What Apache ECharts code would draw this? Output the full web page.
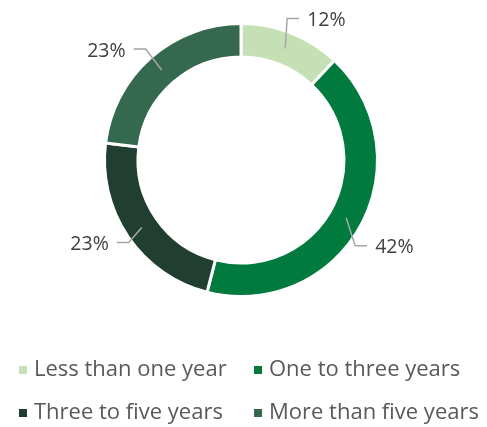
<!DOCTYPE html>
<html>
<head>
<meta charset="utf-8">
<script src="https://cdn.jsdelivr.net/npm/echarts@6/dist/echarts.min.js"></script>
<style>
  html, body { margin: 0; padding: 0; background: #ffffff; }
  #chart { width: 487px; height: 427px; }
</style>
</head>
<body>
<div id="chart"></div>
<script>
// Share of respondents by tenure
const categories = ['Less than one year', 'One to three years', 'Three to five years', 'More than five years'];
const shares = [12, 42, 23, 23];
const colors = ['#C5E0B4', '#007A3D', '#213F31', '#35694F'];

const leftColumn = [categories[0], categories[2]];
const rightColumn = [categories[1], categories[3]];

const pieData = categories.map((name, i) => ({ name, value: shares[i] }));

// Leader line bends: offset from the ring midpoint to the elbow
const leaderBends = [[2, -30], [9, 28], [-13, 15], [-16, -21]];
const leaderTail = 12;
const textGap = 8;

const chart = echarts.init(document.getElementById('chart'), null, { renderer: 'canvas' });

const legendText = { fontFamily: 'Open Sans', fontSize: 22, color: '#595959', padding: [0, 0, 0, 1] };

chart.setOption({
  animation: false,
  color: colors,
  legend: [
    {
      data: leftColumn, orient: 'vertical', left: 17, top: 359, padding: 0,
      icon: 'rect', itemWidth: 10, itemHeight: 10, itemGap: 21,
      selectedMode: false, textStyle: legendText
    },
    {
      data: rightColumn, orient: 'vertical', left: 252, top: 359, padding: 0,
      icon: 'rect', itemWidth: 10, itemHeight: 10, itemGap: 21,
      selectedMode: false, textStyle: legendText
    }
  ],
  series: [
    {
      // the ring itself
      type: 'pie',
      z: 2,
      center: [241, 160],
      radius: [103, 136.5],
      startAngle: 90,
      clockwise: true,
      silent: true,
      label: { show: false },
      labelLine: { show: false },
      itemStyle: { borderColor: '#ffffff', borderWidth: 3 },
      data: pieData
    },
    {
      // invisible copy whose labels start from the middle of the ring
      type: 'pie',
      z: 5,
      center: [241, 160],
      radius: [0, 120],
      startAngle: 90,
      clockwise: true,
      silent: true,
      avoidLabelOverlap: false,
      itemStyle: { color: 'rgba(0,0,0,0)', borderWidth: 0 },
      label: {
        show: true,
        position: 'outside',
        formatter: '{c}%',
        fontFamily: 'Open Sans',
        fontSize: 19.5,
        color: '#404040'
      },
      labelLine: {
        show: true,
        length: 20,
        length2: 10,
        lineStyle: { color: '#A6A6A6', width: 1.5 }
      },
      labelLayout: function (p) {
        const pts = p.labelLinePoints;
        if (!pts || !pts.length) return {};
        const s = pts[0];
        const b = leaderBends[p.dataIndex];
        const e = [s[0] + b[0], s[1] + b[1]];
        const dir = b[0] >= 0 ? 1 : -1;
        const t = [e[0] + dir * leaderTail, e[1]];
        return {
          x: t[0] + dir * textGap,
          y: t[1] + 2,
          align: dir > 0 ? 'left' : 'right',
          verticalAlign: 'middle',
          labelLinePoints: [s, e, t]
        };
      },
      data: pieData
    }
  ]
});
</script>
</body>
</html>
